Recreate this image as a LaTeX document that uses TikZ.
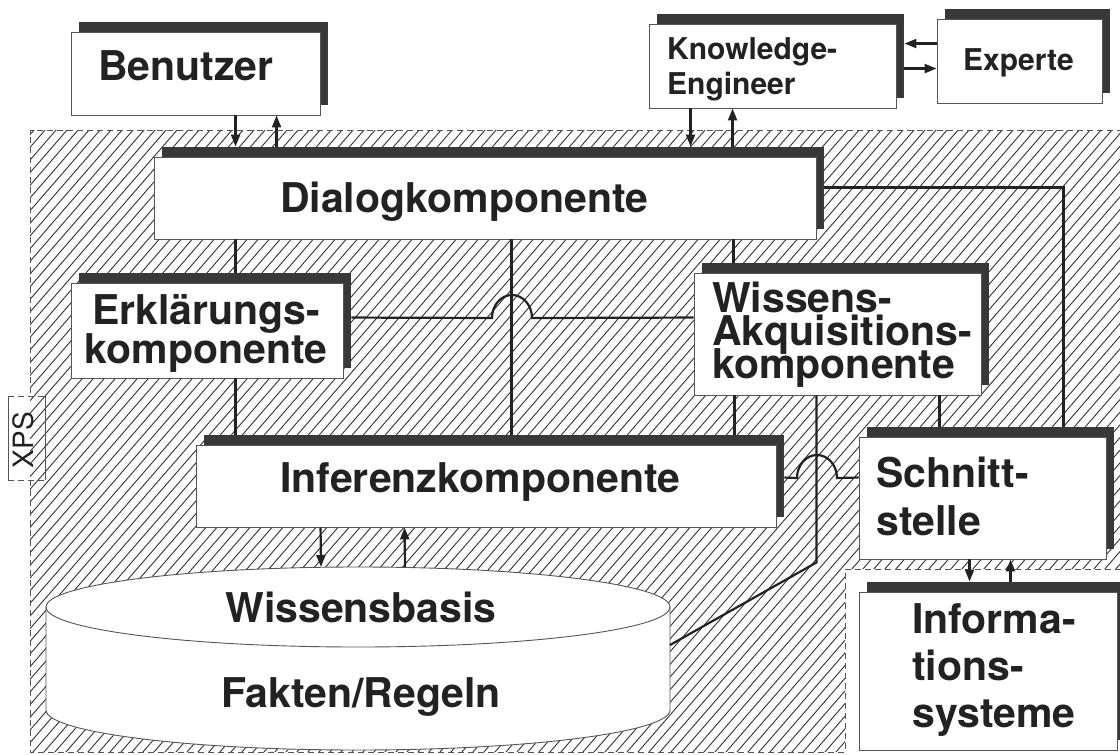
\documentclass[tikz,border=0pt]{standalone}
\usepackage{fontspec}
\setmainfont{TeX Gyre Heros}
\usetikzlibrary{arrows.meta,shadows}

\definecolor{ink}{HTML}{222222}
\definecolor{shade}{HTML}{383838}
\definecolor{edge}{HTML}{555555}
\definecolor{hatchc}{HTML}{333333}

\newcommand\tightlines{\lineskiplimit-100pt\relax}
\newcommand\bigfont[1]{\fontsize{41}{#1}\selectfont\bfseries\tightlines}

\tikzset{
  kbox/.style={draw=edge, line width=0.9pt, fill=white, inner sep=0pt,
    drop shadow={shadow xshift=8pt, shadow yshift=10pt, fill=shade, opacity=1}},
  bigtext/.style={font={\bigfont{39}}, text=ink, inner sep=0pt},
  smalltext/.style={font={\fontsize{30}{35}\selectfont\bfseries\tightlines}, text=ink, inner sep=0pt},
  wire/.style={draw=ink, line width=2.2pt},
  arr/.style={wire, -{Triangle[length=12pt,width=9pt]}},
  border/.style={draw=edge, line width=0.8pt, dash pattern=on 6pt off 4pt},
  hatchline/.style={draw=hatchc, line width=0.9pt},
}

\newcommand\kb[5]{\node[kbox, minimum width={#4-#2}, minimum height={#5-#3}] (#1) at ({(#2+#4)/2},{(#3+#5)/2}) {};}

\begin{document}
\begin{tikzpicture}[x=1pt,y=-1pt]
\useasboundingbox (0,0) rectangle (1120,755);
\fill[white] (0,0) rectangle (1120,755);

% hatched XPS area
\begin{scope}
  \clip (30,130) -- (1120,130) -- (1120,569) -- (845,569) -- (845,752) -- (30,752) -- cycle;
  \foreach \i in {-700,-689,...,1130} \draw[hatchline] (\i,760) -- ++(660,-760);
\end{scope}
\draw[border] (30,393) -- (30,130) -- (1120,130);
\draw[border] (30,480) -- (30,752) -- (845,752) -- (845,569) -- (1120,569);

% XPS label
\draw[edge, line width=0.9pt] (8,396) -- (8,480) (45,396) -- (45,480);
\draw[border] (8,396) -- (45,396) (8,480) -- (45,480);
\node[rotate=90, font=\fontsize{28}{28}\selectfont, text=ink] (xps) at (23,440) {XPS};

% cylinder (Wissensbasis)
\path[fill=white, draw=edge, line width=0.9pt] (46,607) -- (46,710)
  arc[start angle=180, end angle=0, x radius=312, y radius=40] -- (670,607)
  arc[start angle=0, end angle=-180, x radius=312, y radius=40] -- cycle;
\draw[edge, line width=0.9pt] (46,607) arc[start angle=180, end angle=0, x radius=312, y radius=40];
\coordinate (wbtopA) at (321,567);
\coordinate (wbtopB) at (405,567);
\coordinate (wbside) at (670,645);
\node[bigtext, anchor=base] (wb1) at (361,622) {Wissensbasis};
\node[bigtext, anchor=base] (wb2) at (361,707) {Fakten/Regeln};

% boxes
\kb{ben}{71}{32}{320}{115}
\kb{dlg}{154}{157}{816}{239}
\kb{ke}{649}{24}{896}{108}
\kb{exp}{937}{19}{1102}{103}
\kb{erk}{71}{283}{343}{378}
\kb{wa}{694}{273}{981}{395}
\kb{inf}{196}{445}{776}{527}
\kb{sch}{859}{437}{1106}{559}
\kb{info}{859}{592}{1117}{750}

% texts
\node[bigtext, anchor=base west] (ben-t) at (98,80) {Benutzer};
\node[bigtext, anchor=base west] (dlg-t) at (280,212) {Dialogkomponente};
\node[smalltext, anchor=north west, align=left] (ke-t) at (667,37) {Knowledge-\\Engineer};
\node[smalltext, anchor=base west] (exp-t) at (963,70) {Experte};
\node[bigtext, anchor=north, align=center] (erk-t) at (206,294) {Erklärungs-\\komponente};
\node[bigtext, anchor=north west, align=left, font={\bigfont{33}}] (wa-t) at (712,282) {Wissens-\\Akquisitions-\\komponente};
\node[bigtext, anchor=base west] (inf-t) at (280,492) {Inferenzkomponente};
\node[bigtext, anchor=north west, align=left, font={\bigfont{48}}] (sch-t) at (876,457) {Schnitt-\\stelle};
\node[bigtext, anchor=north west, align=left, font={\bigfont{47}}] (info-t) at (912,603) {Informa-\\tions-\\systeme};

% connectors
\draw[arr] ([xshift=165pt]ben.south west) -- ([xshift=82pt,yshift=10pt]dlg.north west);
\draw[arr] ([xshift=123pt,yshift=10pt]dlg.north west) -- ([xshift=206pt]ben.south west);
\draw[arr] ([xshift=42pt]ke.south west) -- ([xshift=537pt,yshift=10pt]dlg.north west);
\draw[arr] ([xshift=579pt,yshift=10pt]dlg.north west) -- ([xshift=84pt]ke.south west);
\draw[arr] ([yshift=-25pt]exp.north west) -- ([xshift=8pt,yshift=-20pt]ke.north east);
\draw[arr] ([xshift=8pt,yshift=-45pt]ke.north east) -- ([yshift=-50pt]exp.north west);

\draw[wire] ([xshift=82pt]dlg.south west) -- ([xshift=165pt,yshift=10pt]erk.north west);
\draw[wire] ([xshift=358pt]dlg.south west) -- ([xshift=316pt,yshift=10pt]inf.north west);
\draw[wire] ([xshift=580pt]dlg.south west) -- ([xshift=40pt,yshift=10pt]wa.north west);
\draw[wire] ([xshift=8pt,yshift=-31pt]dlg.north east) -| ([xshift=205pt,yshift=10pt]sch.north west);

\draw[wire] ([xshift=8pt,yshift=-35pt]erk.north east) -- (492,318)
  arc[start angle=180, end angle=360, x radius=20, y radius=23] -- ([yshift=-45pt]wa.north west);
\draw[wire] ([xshift=165pt]erk.south west) -- ([xshift=40pt,yshift=10pt]inf.north west);
\draw[wire] ([xshift=41pt]wa.south west) -- ([xshift=539pt,yshift=10pt]inf.north west);
\draw[wire] ([xshift=246pt]wa.south west) -- ([xshift=81pt,yshift=10pt]sch.north west);
\draw[wire] ([xshift=123pt]wa.south west) -- ++(0,167) -- (wbside);
\draw[wire] ([xshift=8pt,yshift=-33pt]inf.north east) -- (797,478)
  arc[start angle=180, end angle=360, x radius=20, y radius=23] -- ([yshift=-41pt]sch.north west);

\draw[arr] ([xshift=125pt]inf.south west) -- (wbtopA);
\draw[arr] (wbtopB) -- ([xshift=209pt]inf.south west);
\draw[arr] ([xshift=111pt]sch.south west) -- ([xshift=111pt,yshift=10pt]info.north west);
\draw[arr] ([xshift=152pt,yshift=10pt]info.north west) -- ([xshift=152pt]sch.south west);
\end{tikzpicture}
\end{document}
